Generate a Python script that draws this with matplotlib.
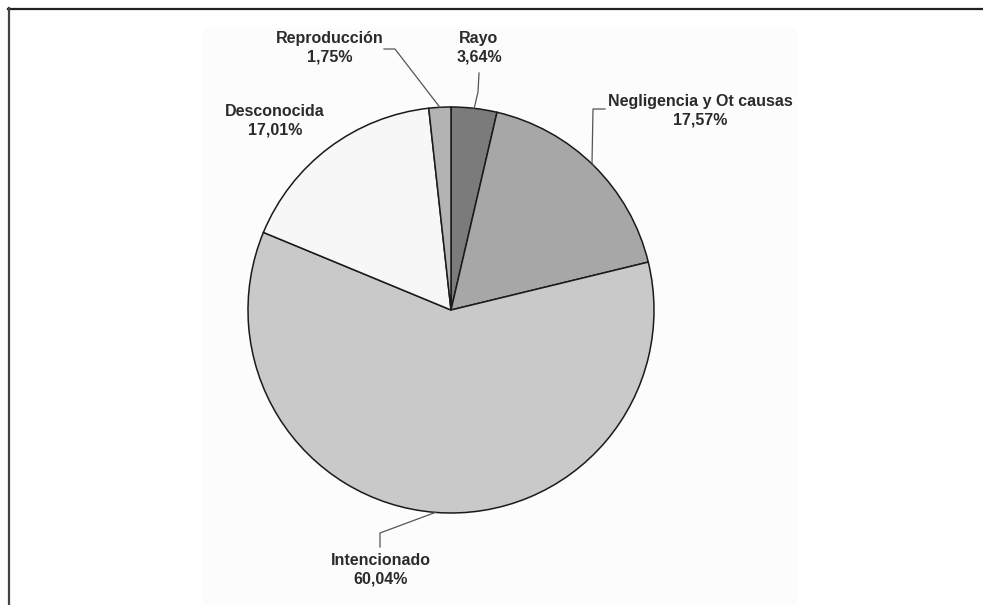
import numpy as np
import matplotlib.pyplot as plt
from matplotlib.lines import Line2D
from matplotlib.patches import Rectangle

plt.rcParams['font.family'] = ['Liberation Sans', 'DejaVu Sans']

# Causas de incendios (%), clockwise from the top
labels = ['Rayo', 'Negligencia y Ot causas', 'Intencionado', 'Desconocida', 'Reproducción']
values = [3.64, 17.57, 60.04, 17.01, 1.75]
value_text = ['3,64%', '17,57%', '60,04%', '17,01%', '1,75%']
colors = ['#7b7b7b', '#a7a7a8', '#c9c9ca', '#f7f7f7', '#b3b3b4']

W, H = 983, 605
fig = plt.figure(figsize=(9.83, 6.05), dpi=100)
ax = fig.add_axes([0, 0, 1, 1])

# faint plot area
ax.add_patch(Rectangle((203, 0), 594, H - 28, facecolor='#fcfcfc', edgecolor='none', zorder=0))

cx, cy, r = 451, H - 310, 203
wedges, _ = ax.pie(values, colors=colors, startangle=90, counterclock=False,
                   center=(cx, cy), radius=r,
                   wedgeprops=dict(edgecolor='#1a1a1a', linewidth=1.1))

# label centre (pixels from top-left) and leader elbow points
label_pos = {
    'Rayo': (479, 48),
    'Negligencia y Ot causas': (700, 111),
    'Intencionado': (381, 570),
    'Desconocida': (275, 121),
    'Reproducción': (330, 48),
}
leaders = {
    'Rayo': [(479, 73), (478, 92)],
    'Negligencia y Ot causas': [(605, 109), (593, 109), (592, 163)],
    'Intencionado': [(380, 547), (380, 533)],
    'Reproducción': [(384, 49), (395, 49)],
}

for w, lab, vt in zip(wedges, labels, value_text):
    x, y = label_pos[lab]
    ax.text(x, H - y, lab + '\n' + vt, ha='center', va='center', fontsize=11.5,
            fontweight='bold', color='#2b2b2b', linespacing=1.3)
    if lab in leaders:
        mid = np.deg2rad((w.theta1 + w.theta2) / 2)
        pts = leaders[lab] + [(cx + r * np.cos(mid), H - (cy + r * np.sin(mid)))]
        ax.plot([p[0] for p in pts], [H - p[1] for p in pts],
                color='#555555', linewidth=0.9, zorder=3)

ax.set_xlim(0, W)
ax.set_ylim(0, H)
ax.set_aspect('equal')
ax.axis('off')

# frame: only top and left edges are inside the picture
fig.add_artist(Line2D([8 / W, 1], [1 - 8.5 / H, 1 - 8.5 / H], color='#222222', linewidth=1.6))
fig.add_artist(Line2D([8.5 / W, 8.5 / W], [0, 1 - 8 / H], color='#444444', linewidth=1.6))

fig.savefig('out.png', dpi=100, facecolor='white')
